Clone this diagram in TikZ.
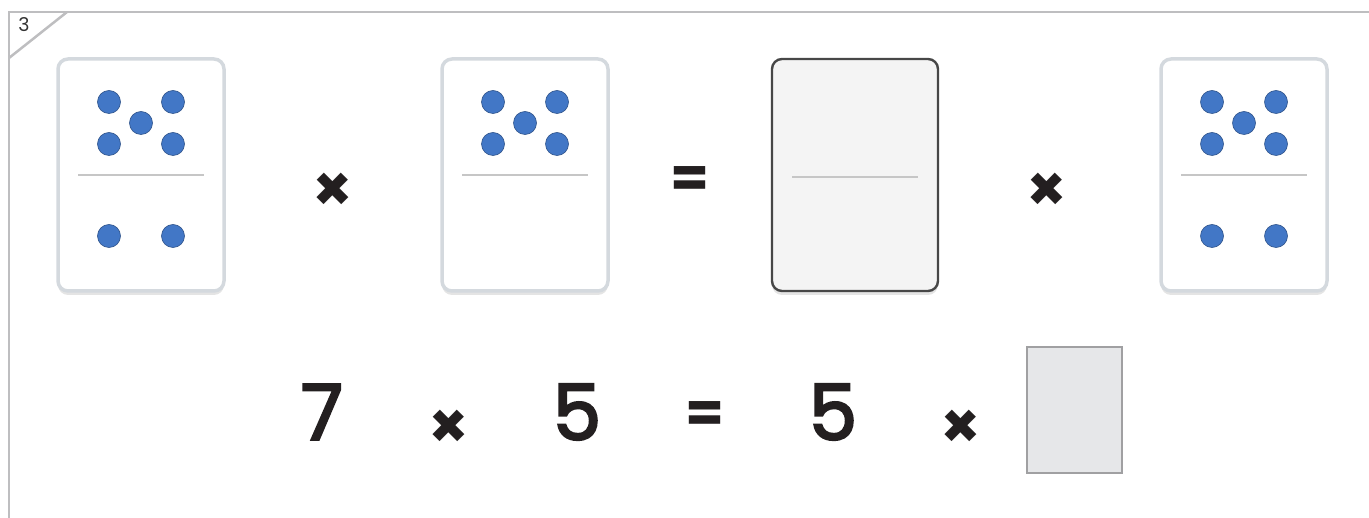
\documentclass[tikz,border=0pt]{standalone}
\usepackage{fontspec}
\setmainfont{Poppins}
\newfontfamily\numfont{Poppins}[FakeBold=3]
\usepackage{tikz}
\usepackage{xcolor}
\usetikzlibrary{positioning,shadows,calc}
\definecolor{pipblue}{RGB}{66,119,198}
\definecolor{framegray}{RGB}{190,190,192}
\definecolor{rimgray}{RGB}{212,217,222}
\definecolor{slotfill}{RGB}{230,231,233}
\definecolor{slotdraw}{RGB}{160,160,162}
\definecolor{inkblack}{RGB}{35,31,32}

\newcommand{\fivepips}[1]{%
 \node[pip] at ($(#1)+(-32,-73)$) {};
 \node[pip] at ($(#1)+(32,-73)$) {};
 \node[pip] at ($(#1)+(0,-52)$) {};
 \node[pip] at ($(#1)+(-32,-31)$) {};
 \node[pip] at ($(#1)+(32,-31)$) {};}
\newcommand{\twopips}[1]{%
 \node[pip] at ($(#1)+(-32,61)$) {};
 \node[pip] at ($(#1)+(32,61)$) {};}

\begin{document}
\begin{tikzpicture}[
 x=1pt, y=-1pt,
 domino/.style={rectangle, rounded corners=10pt, draw=rimgray, line width=3.5pt, fill=white, minimum width=166pt, minimum height=232pt, drop shadow={opacity=0.35, fill=gray!60, shadow xshift=0pt, shadow yshift=-4pt}},
 blank/.style={domino, fill=gray!9, draw=black!72, line width=2.4pt},
 pip/.style={circle, fill=pipblue, draw=pipblue!70!black, line width=0.6pt, minimum size=23pt, inner sep=0pt},
 divider/.style={draw=gray!45, line width=1.2pt},
 op/.style={font=\fontsize{64}{64}\selectfont\bfseries, text=inkblack, inner sep=0pt},
 eqsign/.style={font=\fontsize{56}{56}\selectfont\bfseries, text=inkblack, inner sep=0pt},
 num/.style={font=\fontsize{77}{77}\selectfont\numfont, text=inkblack, inner sep=0pt},
 answer/.style={rectangle, draw=slotdraw, line width=2pt, fill=slotfill, minimum width=95pt, minimum height=126pt},
 frame/.style={draw=framegray, line width=2.5pt}
]
\useasboundingbox (0,0) rectangle (1369,518);

% Frame and task number
\draw[frame] (9,518) -- (9,12) -- (1369,12);
\draw[frame] (9,58) -- (67,12);
\node[font=\fontsize{19}{19}\selectfont, text=black!80] (task) at (24,25) {3};

% Dominoes
\node[domino] (dom1) at (141,175) {};
\node[domino] (dom2) at (525,175) {};
\node[blank] (dom3) at (855,175) {};
\node[domino] (dom4) at (1244,175) {};

\fivepips{dom1}
\twopips{dom1}
\fivepips{dom2}
\fivepips{dom4}
\twopips{dom4}

\draw[divider] ($(dom1)+(-63,0)$) -- ($(dom1)+(63,0)$);
\draw[divider] ($(dom2)+(-63,0)$) -- ($(dom2)+(63,0)$);
\draw[divider] ($(dom3)+(-63,2)$) -- ($(dom3)+(63,2)$);
\draw[divider] ($(dom4)+(-63,0)$) -- ($(dom4)+(63,0)$);

% Top row operators
\node[op] (times1) at (333,192) {×};
\node[eqsign] (eq1) at (690,182) {=};
\node[op] (times2) at (1047,192) {×};

% Bottom row
\node[num] (seven) at (322,412) {7};
\node[op] (times3) at (449,429) {×};
\node[num] (fiveA) at (577,412) {5};
\node[eqsign] (eq2) at (705,417) {=};
\node[num] (fiveB) at (833,412) {5};
\node[op] (times4) at (961,429) {×};
\node[answer] (slot) at (1074,410) {};

\end{tikzpicture}
\end{document}
